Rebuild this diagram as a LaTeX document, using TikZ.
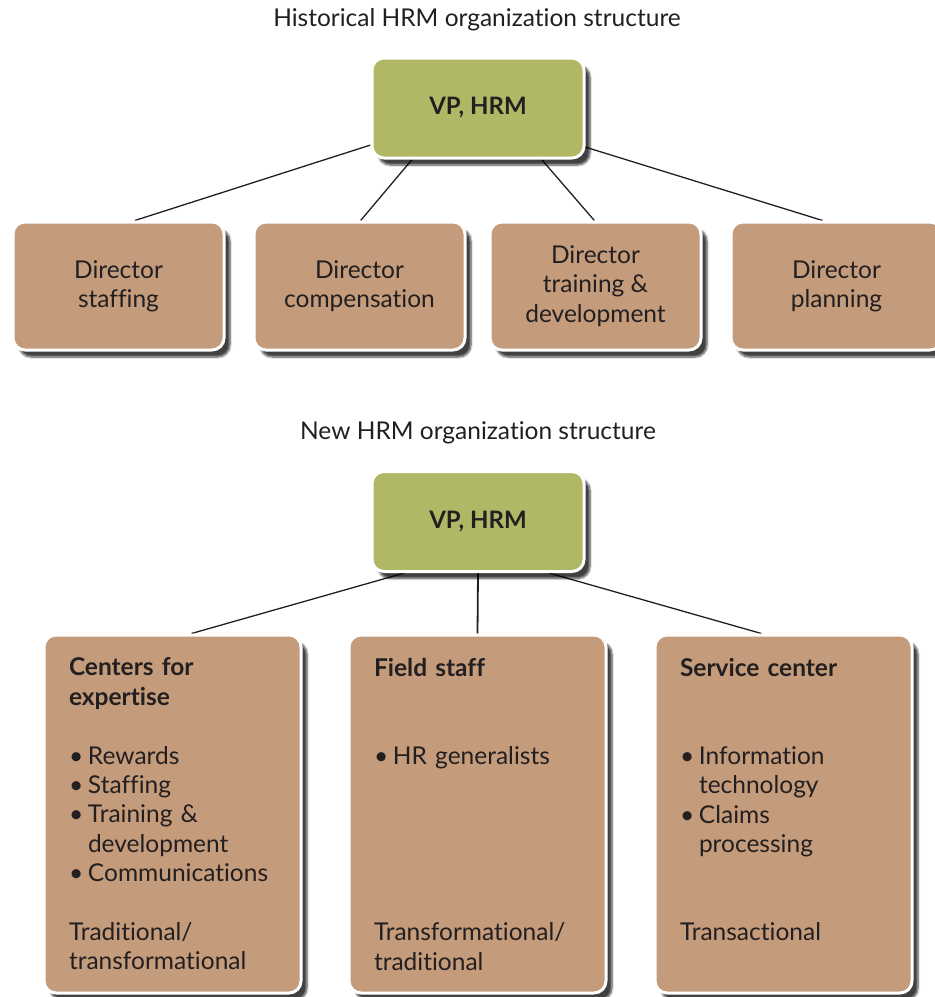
\documentclass[tikz,border=0pt]{standalone}
\usepackage{fontspec}
\setmainfont{Lato}[Ligatures=NoCommon]
\usetikzlibrary{positioning, shadows.blur}
\definecolor{vpgreen}{HTML}{B0B866}
\definecolor{unittan}{HTML}{C49C7C}
\definecolor{inkgray}{HTML}{231F20}
\pgfdeclarelayer{background}
\pgfsetlayers{background,main}
\newcommand{\itm}{\makebox[19pt][l]{\textbullet}}
\newcommand{\itmgap}{\hspace*{19pt}}

\begin{document}
\begin{tikzpicture}[
    x=1pt, y=1pt,
    font=\fontsize{24.5}{29.4}\selectfont,
    card/.style={rectangle, rounded corners=12pt, draw=white, line width=3pt, text=inkgray,
        blur shadow={shadow xshift=6pt, shadow yshift=-7pt, shadow blur steps=6, shadow opacity=75}},
    vpbox/.style={card, fill=vpgreen, minimum width=212pt, minimum height=100pt, font=\fontsize{24}{28}\selectfont\bfseries},
    dirbox/.style={card, fill=unittan, minimum width=211pt, minimum height=128pt, align=center, inner sep=0pt},
    unitbox/.style={card, fill=unittan, minimum width=257pt, minimum height=358pt, text width=207pt, inner xsep=25pt, align=left},
    heading/.style={font=\fontsize{24.5}{29}\selectfont, text=inkgray},
    link/.style={line width=1.3pt, draw=inkgray},
]
\useasboundingbox (0,0) rectangle (935,-997);

% old structure
\node[heading] (oldtitle) at (477,-20) {Historical HRM organization structure};
\node[vpbox] (oldvp) at (478,-108) {VP, HRM};
\node[dirbox] (staffing) at (118.5,-286) {Director\\staffing};
\node[dirbox, right=27pt of staffing] (compensation) {Director\\compensation};
\node[dirbox, right=22pt of compensation] (training) {Director\\training \&\\development};
\node[dirbox, right=27pt of training] (planning) {Director\\planning};

% new structure
\node[heading] (newtitle) at (478,-433) {New HRM organization structure};
\node[vpbox] (newvp) at (478,-521.5) {VP, HRM};
\node[unitbox] (expertise) at (172.5,-814) {\textbf{Centers for}\\\textbf{expertise}\\[29.4pt]
    \itm Rewards\\\itm Staffing\\\itm Training \&\\\itmgap development\\
    \itm Communications\\[29.4pt]Traditional/\\transformational};
\node[unitbox, right=45pt of expertise] (field) {\textbf{Field staff}\\[58.8pt]
    \itm HR generalists\\[147pt]Transformational/\\traditional};
\node[unitbox, right=46pt of field] (service) {\textbf{Service center}\\[58.8pt]
    \itm Information\\\itmgap technology\\\itm Claims\\\itmgap processing\\[58.8pt]
    Transactional\\\mbox{}};

\begin{pgfonlayer}{background}
\draw[link] (oldvp.199) -- (staffing.76);
\draw[link] (oldvp.218) -- (compensation.89);
\draw[link] (oldvp.321) -- (training.91);
\draw[link] (oldvp.340) -- (planning.102);

\draw[link] (newvp.215) -- (expertise.84);
\draw[link, line width=1.8pt] (newvp.south) -- (field.north);
\draw[link] (newvp.324) -- (service.97);
\end{pgfonlayer}

\end{tikzpicture}
\end{document}
